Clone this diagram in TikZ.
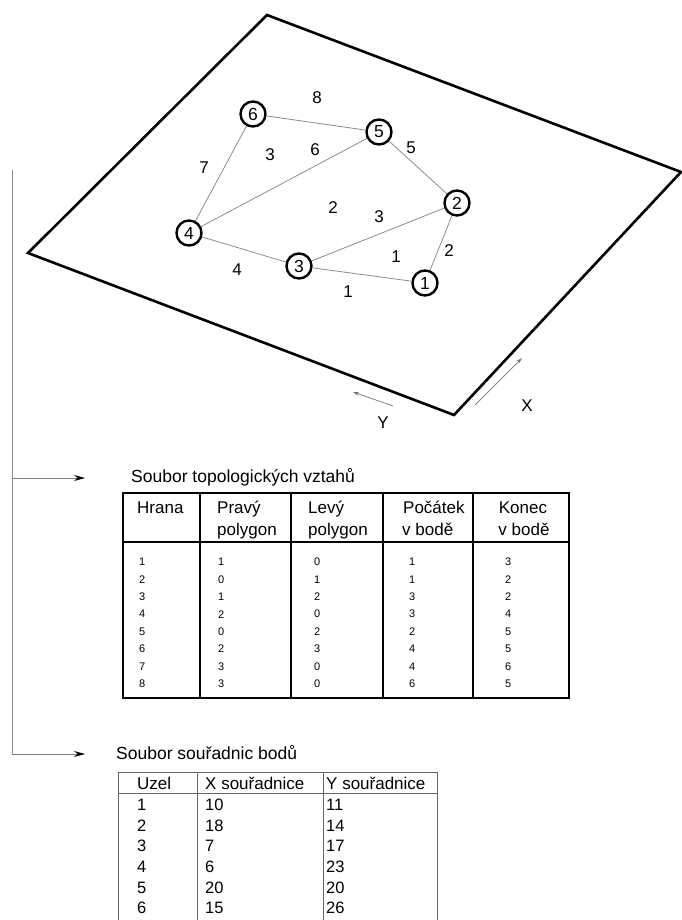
\documentclass[tikz,border=0pt]{standalone}
\usepackage{fontspec}
\setmainfont{Liberation Sans}
\usetikzlibrary{arrows.meta}

\tikzset{
  plane/.style={line width=2.6pt, line join=miter},
  knot/.style={circle, draw, line width=2.4pt, minimum size=25pt, inner sep=0pt,
    font=\fontsize{17.5}{20}\selectfont},
  edge/.style={draw=black!45, line width=0.8pt},
  lbl/.style={inner sep=0pt, font=\fontsize{17}{20}\selectfont},
  axis/.style={draw=black!55, line width=0.7pt, -{Stealth[length=6pt,width=3.5pt]}},
  feed/.style={draw=black!50, line width=0.8pt, -{Stealth[length=11pt,width=6pt,color=black]}},
  tabthick/.style={line width=2.2pt},
  tabthin/.style={draw=black!60, line width=0.8pt},
  title/.style={anchor=west, inner sep=0pt, font=\fontsize{17.5}{20}\selectfont},
  hdr/.style={anchor=base west, inner sep=0pt, font=\fontsize{17}{20}\selectfont},
  cell/.style={anchor=west, inner sep=0pt, font=\fontsize{11}{13}\selectfont},
  cellbig/.style={anchor=west, inner sep=0pt, font=\fontsize{16.5}{19}\selectfont}
}

\begin{document}
\begin{tikzpicture}[x=1pt,y=-1pt]
  \useasboundingbox (0,0) rectangle (681,920);

  \draw[plane] (267,15) -- (681,172) -- (454,415) -- (28,253) -- cycle;

  \node[knot] (n1) at (425,283) {1};
  \node[knot] (n2) at (457,203) {2};
  \node[knot] (n3) at (299,266) {3};
  \node[knot] (n4) at (189,233) {4};
  \node[knot] (n5) at (379,132) {5};
  \node[knot] (n6) at (253,114) {6};

  \draw[edge] (n3) -- (n1);
  \draw[edge] (n1) -- (n2);
  \draw[edge] (n3) -- (n2);
  \draw[edge] (n3) -- (n4);
  \draw[edge] (n2) -- (n5);
  \draw[edge] (n4) -- (n5);
  \draw[edge] (n4) -- (n6);
  \draw[edge] (n6) -- (n5);

  \foreach \t/\x/\y [count=\i] in {8/317/98, 3/270/155, 6/315/150, 7/204/168, 5/411/148,
      2/333/208, 3/379/217, 1/396/257, 2/449/251, 4/237/270, 1/348/292}
  {
    \node[lbl] (e\i) at (\x,\y) {\t};
  }

  \coordinate (xa) at (475,405);
  \coordinate (xb) at (522,358);
  \coordinate (ya) at (393,406);
  \coordinate (yb) at (353,392);
  \draw[axis] (xa) -- (xb);
  \draw[axis] (ya) -- (yb);
  \node[lbl] (xl) at (527,406) {X};
  \node[lbl] (yl) at (383,423) {Y};

  \coordinate (top) at (12,170);
  \coordinate (k1) at (12,478);
  \coordinate (k2) at (12,754);
  \coordinate (a1) at (85,478);
  \coordinate (a2) at (85,754);
  \draw[draw=black!45, line width=0.8pt] (top) -- (k2);
  \draw[feed] (k1) -- (a1);
  \draw[feed] (k2) -- (a2);

  \node[title] (t1) at (131,477) {Soubor topologických vztahů};
  \draw[tabthick] (123,493) rectangle (569,698);
  \draw[tabthick] (123,542) -- (569,542);
  \foreach \cx in {200,291,383,473}
  {
    \draw[tabthick] (\cx,493) -- (\cx,698);
  }
  \node[hdr] (h1) at (137,513) {Hrana};
  \node[hdr] (h2) at (217,513) {Pravý};
  \node[hdr] (h2b) at (217,535) {polygon};
  \node[hdr] (h3) at (308,513) {Levý};
  \node[hdr] (h3b) at (308,535) {polygon};
  \node[hdr] (h4) at (403,513) {Počátek};
  \node[hdr] (h4b) at (402,535) {v bodě};
  \node[hdr, anchor=base] (h5) at (523,513) {Konec};
  \node[hdr, anchor=base] (h5b) at (524,535) {v bodě};
  \foreach \h/\p/\l/\s/\e [count=\r] in {1/1/0/1/3, 2/0/1/1/2, 3/1/2/3/2, 4/2/0/3/4,
      5/0/2/2/5, 6/2/3/4/5, 7/3/0/4/6, 8/3/0/6/5}
  {
    \node[cell] (ra\r) at (139,{562+(\r-1)*17.4}) {\h};
    \node[cell] (rb\r) at (218,{562+(\r-1)*17.4}) {\p};
    \node[cell] (rc\r) at (314,{562+(\r-1)*17.4}) {\l};
    \node[cell] (rd\r) at (409,{562+(\r-1)*17.4}) {\s};
    \node[cell] (re\r) at (505,{562+(\r-1)*17.4}) {\e};
  }

  \node[title] (t2) at (116,753) {Soubor souřadnic bodů};
  \draw[tabthin] (118,921) -- (118,772) -- (437,772) -- (437,921);
  \draw[tabthin] (118,793) -- (437,793);
  \foreach \cx in {197,323}
  {
    \draw[tabthin] (\cx,772) -- (\cx,921);
  }
  \node[cellbig, font=\fontsize{17}{20}\selectfont] (g1) at (137,783) {Uzel};
  \node[cellbig, font=\fontsize{17}{20}\selectfont] (g2) at (205,783) {X souřadnice};
  \node[cellbig, font=\fontsize{17}{20}\selectfont] (g3) at (326,783) {Y souřadnice};
  \foreach \u/\xs/\ys [count=\r] in {1/10/11, 2/18/14, 3/7/17, 4/6/23, 5/20/20, 6/15/26}
  {
    \node[cellbig] (pa\r) at (137,{805+(\r-1)*20.6}) {\u};
    \node[cellbig] (pb\r) at (205,{805+(\r-1)*20.6}) {\xs};
    \node[cellbig] (pc\r) at (326,{805+(\r-1)*20.6}) {\ys};
  }
\end{tikzpicture}
\end{document}
